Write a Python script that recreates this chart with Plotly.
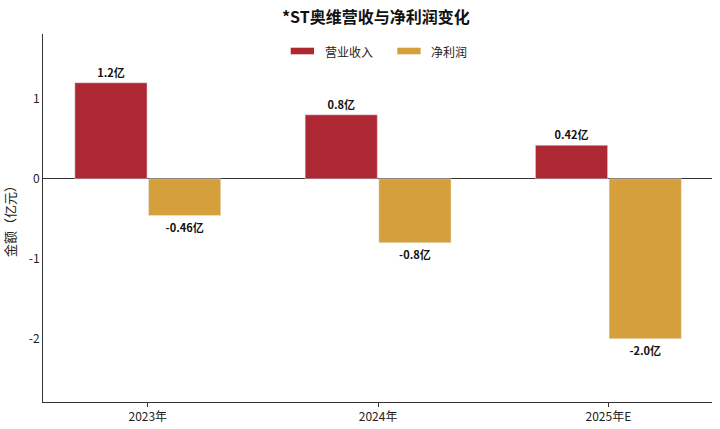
import plotly.graph_objects as go

categories = ["2023年", "2024年", "2025年E"]
revenue = [1.2, 0.8, 0.42]
net_profit = [-0.46, -0.8, -2.0]
revenue_labels = ["1.2亿", "0.8亿", "0.42亿"]
profit_labels = ["-0.46亿", "-0.8亿", "-2.0亿"]
series_names = ["营业收入", "净利润"]
y_ticks = [-2, -1, 0, 1]

FONT = "Noto Sans CJK SC, Microsoft YaHei, sans-serif"
RED = "#AE2833"
GOLD = "#D5A03C"
colors = [RED, GOLD]

W, H = 720, 429
ML, MR, MT, MB = 43, 8, 34, 27
PW, PH = W - ML - MR, H - MT - MB


def px_x(px):
    return (px - ML) / PW


def px_y(py):
    return (H - MB - py) / PH


fig = go.Figure()
fig.add_trace(go.Bar(
    x=categories, y=revenue, name=series_names[0], marker_color=RED,
    text=[f"<b>{t}</b>" for t in revenue_labels], textposition="outside",
    textfont=dict(size=11, color="#111111", family=FONT), cliponaxis=False,
))
fig.add_trace(go.Bar(
    x=categories, y=net_profit, name=series_names[1], marker_color=GOLD,
    text=[f"<b>{t}</b>" for t in profit_labels], textposition="outside",
    textfont=dict(size=11, color="#111111", family=FONT), cliponaxis=False,
))

# custom legend (wide rectangular patches like the reference)
patch_left = [290.7, 397.3]
text_left = [323.3, 429.3]
shapes = []
annotations = []
for i in range(2):
    shapes.append(dict(type="rect", xref="paper", yref="paper",
                       x0=px_x(patch_left[i]), x1=px_x(patch_left[i] + 23.3),
                       y0=px_y(54.3), y1=px_y(47.7),
                       fillcolor=colors[i], line=dict(width=0)))
    annotations.append(dict(xref="paper", yref="paper", x=px_x(text_left[i]), y=px_y(51),
                            xanchor="left", yanchor="middle", showarrow=False,
                            text=series_names[i], font=dict(size=12, color="#222222", family=FONT)))

fig.update_layout(
    width=W, height=H,
    margin=dict(l=ML, r=MR, t=MT, b=MB),
    paper_bgcolor="white", plot_bgcolor="white",
    font=dict(family=FONT, size=12, color="#222222"),
    barmode="group", bargap=0.36, bargroupgap=0.02,
    title=dict(text="<b>*ST奥维营收与净利润变化</b>", x=0.522, xanchor="center",
               y=1 - 17 / H, yanchor="middle", font=dict(size=16, color="#111111", family=FONT)),
    showlegend=False,
    shapes=shapes,
    annotations=annotations,
)
fig.update_xaxes(
    showline=True, linecolor="#333333", linewidth=1, showgrid=False,
    ticks="outside", ticklen=4, tickcolor="#333333",
    tickfont=dict(size=12, color="#222222"),
    range=[-0.455, 2.45], automargin=False,
)
fig.update_yaxes(
    range=[-2.79, 1.81], tickvals=y_ticks, ticktext=[str(v) for v in y_ticks],
    showline=True, linecolor="#333333", linewidth=1, showgrid=False,
    zeroline=True, zerolinecolor="#333333", zerolinewidth=1,
    ticks="", tickfont=dict(size=12, color="#222222"),
    title=dict(text="金额（亿元）", font=dict(size=13, color="#222222"), standoff=12),
    automargin=False,
)

fig.write_html("out.html", config={"displayModeBar": False},
               post_script="document.body.style.margin='0';")
